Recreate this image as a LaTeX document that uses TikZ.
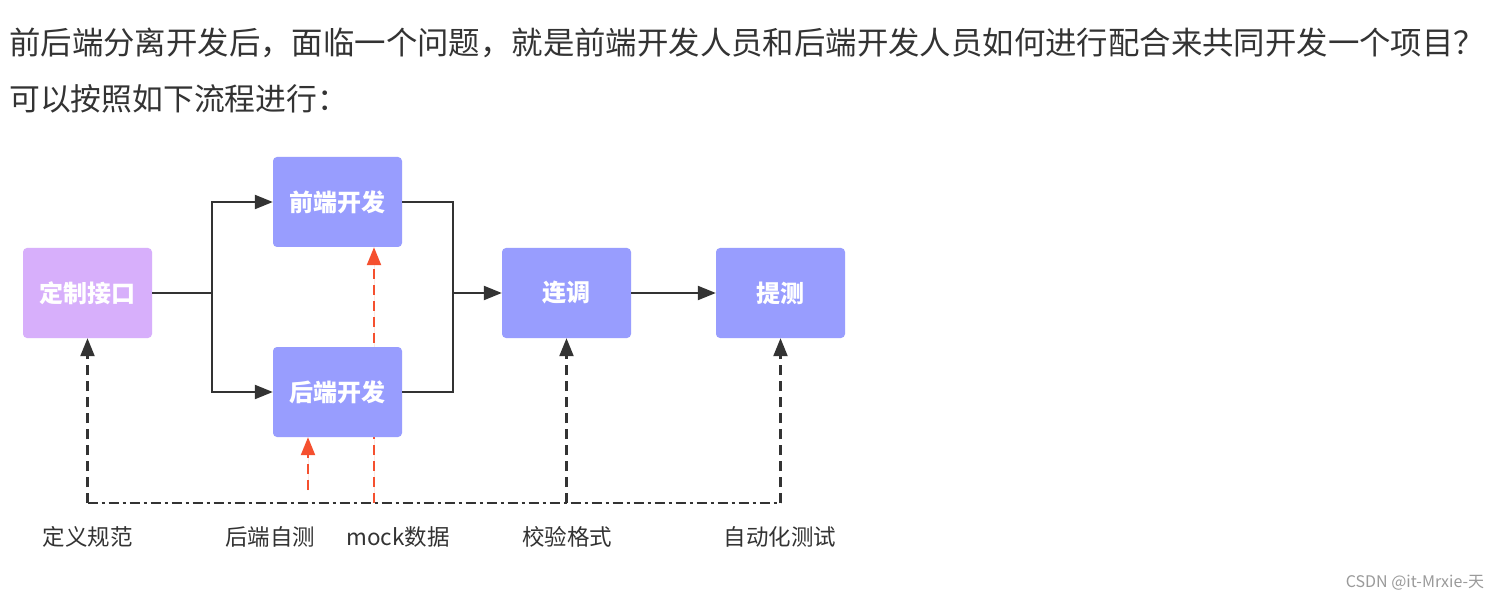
\documentclass[tikz,border=0pt]{standalone}
\usepackage{fontspec}
\setmainfont{Noto Sans CJK SC}
\usetikzlibrary{arrows.meta,backgrounds}
\definecolor{txt}{HTML}{333333}
\definecolor{purp}{HTML}{D7AFFB}
\definecolor{blu}{HTML}{989DFE}
\definecolor{lnk}{HTML}{333333}
\definecolor{redl}{HTML}{F5502F}
\definecolor{wm}{HTML}{9A9A9A}
\tikzset{
  box/.style={rounded corners=4pt, minimum width=129pt, minimum height=90pt, inner sep=0pt,
    text=white, font=\fontsize{24}{24}\selectfont\bfseries},
  tip/.style={-{Triangle[length=18pt,width=14pt]}},
  conn/.style={draw=lnk, line width=2.2pt},
  arr/.style={conn, tip},
  dasharr/.style={draw=lnk, line width=2.2pt, dash pattern=on 10pt off 6pt, tip},
  dashdot/.style={draw=lnk, line width=2.4pt, dash pattern=on 10pt off 4pt on 3pt off 4pt},
  redarr/.style={draw=redl, line width=2.2pt, dash pattern=on 10pt off 6pt, tip, fill=redl},
  lbl/.style={text=txt, inner sep=0pt, font=\fontsize{22.5}{23}\selectfont},
  title/.style={text=txt, inner sep=0pt, anchor=base west, font=\fontsize{31.4}{32}\selectfont}
}
\begin{document}
\begin{tikzpicture}[x=1pt,y=-1pt]
\useasboundingbox (0,0) rectangle (1503,601);
\node[title] (t1) at (9,55) {前后端分离开发后，面临一个问题，就是前端开发人员和后端开发人员如何进行配合来共同开发一个项目？};
\node[title, font=\fontsize{30.8}{31}\selectfont] (t2) at (9,111) {可以按照如下流程进行：};

\node[box, fill=purp] (dz) at (87.5,293) {定制接口};
\node[box, fill=blu] (qd) at (337.5,202) {前端开发};
\node[box, fill=blu] (hd) at (337.5,392) {后端开发};
\node[box, fill=blu] (lt) at (566.5,293) {连调};
\node[box, fill=blu] (tc) at (780.5,293) {提测};

\coordinate (s) at (212,293);
\coordinate (m) at (453,293);
\draw[conn] (dz.east) -- (s);
\draw[arr] (s) |- (qd.west);
\draw[arr] (s) |- (hd.west);
\draw[conn] (qd.east) -| (m);
\draw[conn] (hd.east) -| (m);
\draw[arr] (m) -- (lt.west);
\draw[arr] (lt.east) -- (tc.west);

\coordinate (b1) at (87.5,503);
\coordinate (b3) at (566.5,503);
\coordinate (b5) at (780.5,503);
\coordinate (r1) at (308,490);
\coordinate (r2) at (374,503);
\draw[dashdot] (b1) -- (b5);
\draw[dasharr] (b1) -- (dz.south);
\draw[dasharr] (b3) -- (lt.south);
\draw[dasharr] (b5) -- (tc.south);
\draw[redarr] (r1) -- (r1 |- hd.south);
\begin{scope}[on background layer]
\fill[white] (0,0) rectangle (1503,601);
\draw[redarr] (r2) -- (r2 |- qd.south);
\end{scope}

\node[lbl] (l1) at (87.5,537) {定义规范};
\node[lbl] (l2) at (270,537) {后端自测};
\node[lbl] (l3) at (398,537) {mock数据};
\node[lbl] (l4) at (567,537) {校验格式};
\node[lbl] (l5) at (780,537) {自动化测试};

\node[text=wm, inner sep=0pt, font=\fontsize{16}{16}\selectfont] (w) at (1415,583) {CSDN @it-Mrxie-天};
\end{tikzpicture}
\end{document}
